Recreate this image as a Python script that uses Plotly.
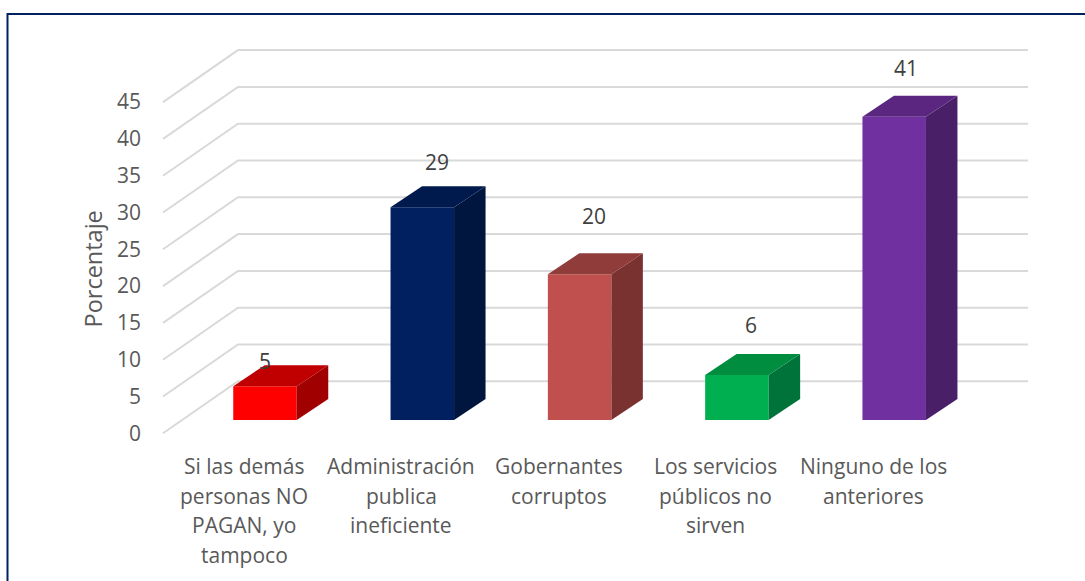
import plotly.graph_objects as go

categories = [
    ["Si las demás", "personas NO", "PAGAN, yo", "tampoco"],
    ["Administración", "publica", "ineficiente"],
    ["Gobernantes", "corruptos"],
    ["Los servicios", "públicos no", "sirven"],
    ["Ninguno de los", "anteriores"],
]
values = [4.6, 28.9, 19.8, 6.1, 41.2]
value_labels = ["5", "29", "20", "6", "41"]
y_ticks = [0, 5, 10, 15, 20, 25, 30, 35, 40, 45]

front_colors = ["#FF0000", "#002060", "#C0504D", "#00B050", "#7030A0"]
top_colors = ["#C00000", "#001A4D", "#8F3C3A", "#008D40", "#5A2680"]
side_colors = ["#A00000", "#00163F", "#7A3230", "#00733A", "#491F68"]

label_shift = [(0, 25), (15, 45), (14, 58), (14, 50), (12, 49)]

W, H = 1085, 581
PL, PR, PT, PB = 142, 1040, 40, 570
UX = 157.3
UY = 7.36
X0 = 265
Y0 = 433.3

x_range = [(PL - X0) / UX, (PR - X0) / UX]
y_range = [(Y0 - PB) / UY, (Y0 - PT) / UY]


def paper_x(px):
    return (px - PL) / (PR - PL)


def paper_y(py):
    return 1 - (py - PT) / (PB - PT)


WALL_DX, WALL_DY = 75 / UX, 52 / UY
WALL_L, WALL_R = (163 - X0) / UX, (1028 - X0) / UX
BAR_W = 63.5 / UX
BAR_BASE = 13.3 / UY
BAR_DX, BAR_DY = 31.5 / UX, 21 / UY
LABEL_STEP = 29.5 / UY
LABEL_FIRST = -32.7 / UY
LABEL_CX = -21 / UX

FONT = "Open Sans"
TXT = "#595959"

fig = go.Figure()

shapes = []
for t in y_ticks:
    path = (f"M {WALL_L} {t} L {WALL_L + WALL_DX} {t + WALL_DY} L {WALL_R} {t + WALL_DY}")
    shapes.append(dict(type="path", path=path, xref="x", yref="y", layer="below",
                       line=dict(color="#D9D9D9", width=2)))
shapes.append(dict(type="path", xref="paper", yref="paper", layer="above",
                   path=(f"M {paper_x(7.5)} {paper_y(581)} L {paper_x(7.5)} {paper_y(14)} "
                         f"L {paper_x(1085)} {paper_y(14)}"),
                   line=dict(color="#002060", width=2)))

xs = list(range(len(values)))

fig.add_trace(go.Bar(x=xs, y=values, base=BAR_BASE, width=BAR_W,
                     marker=dict(color=front_colors, line=dict(width=0)),
                     hoverinfo="skip", showlegend=False))

for i, v in enumerate(values):
    l, r = i - BAR_W / 2, i + BAR_W / 2
    b, t = BAR_BASE, BAR_BASE + v
    fig.add_trace(go.Scatter(
        x=[r, r + BAR_DX, r + BAR_DX, r, r], y=[b, b + BAR_DY, t + BAR_DY, t, b],
        mode="lines", fill="toself", fillcolor=side_colors[i], line=dict(width=0),
        hoverinfo="skip", showlegend=False))
    fig.add_trace(go.Scatter(
        x=[l, r, r + BAR_DX, l + BAR_DX, l], y=[t, t, t + BAR_DY, t + BAR_DY, t],
        mode="lines", fill="toself", fillcolor=top_colors[i], line=dict(width=0),
        hoverinfo="skip", showlegend=False))

annotations = []
for i, v in enumerate(values):
    dx, dy = label_shift[i]
    annotations.append(dict(x=i, y=BAR_BASE + v, xref="x", yref="y", text=value_labels[i],
                            showarrow=False, xshift=dx, yshift=dy, xanchor="center", yanchor="middle",
                            font=dict(family=FONT, size=21, color="#404040")))
    for j, line in enumerate(categories[i]):
        annotations.append(dict(x=i + LABEL_CX, y=LABEL_FIRST - j * LABEL_STEP, xref="x", yref="y",
                                text=line, showarrow=False, xanchor="center", yanchor="middle",
                                font=dict(family=FONT, size=21, color=TXT)))
annotations.append(dict(x=paper_x(92.5), y=paper_y(269), xref="paper", yref="paper", text="Porcentaje",
                        textangle=-90, showarrow=False, xanchor="center", yanchor="middle",
                        font=dict(family=FONT, size=23.5, color=TXT)))

fig.update_layout(
    width=W, height=H, autosize=False,
    margin=dict(l=PL, r=W - PR, t=PT, b=H - PB),
    paper_bgcolor="white", plot_bgcolor="rgba(0,0,0,0)",
    barmode="overlay", shapes=shapes, annotations=annotations,
    xaxis=dict(range=x_range, visible=False, fixedrange=True),
    yaxis=dict(range=y_range, tickvals=y_ticks, ticktext=[str(t) for t in y_ticks],
               showgrid=False, zeroline=False, showline=False, ticks="", fixedrange=True,
               tickfont=dict(family=FONT, size=21, color=TXT)),
)

fig.write_html("out.html", config=dict(displayModeBar=False),
               post_script="document.body.style.margin='0';document.body.style.overflow='hidden';")
